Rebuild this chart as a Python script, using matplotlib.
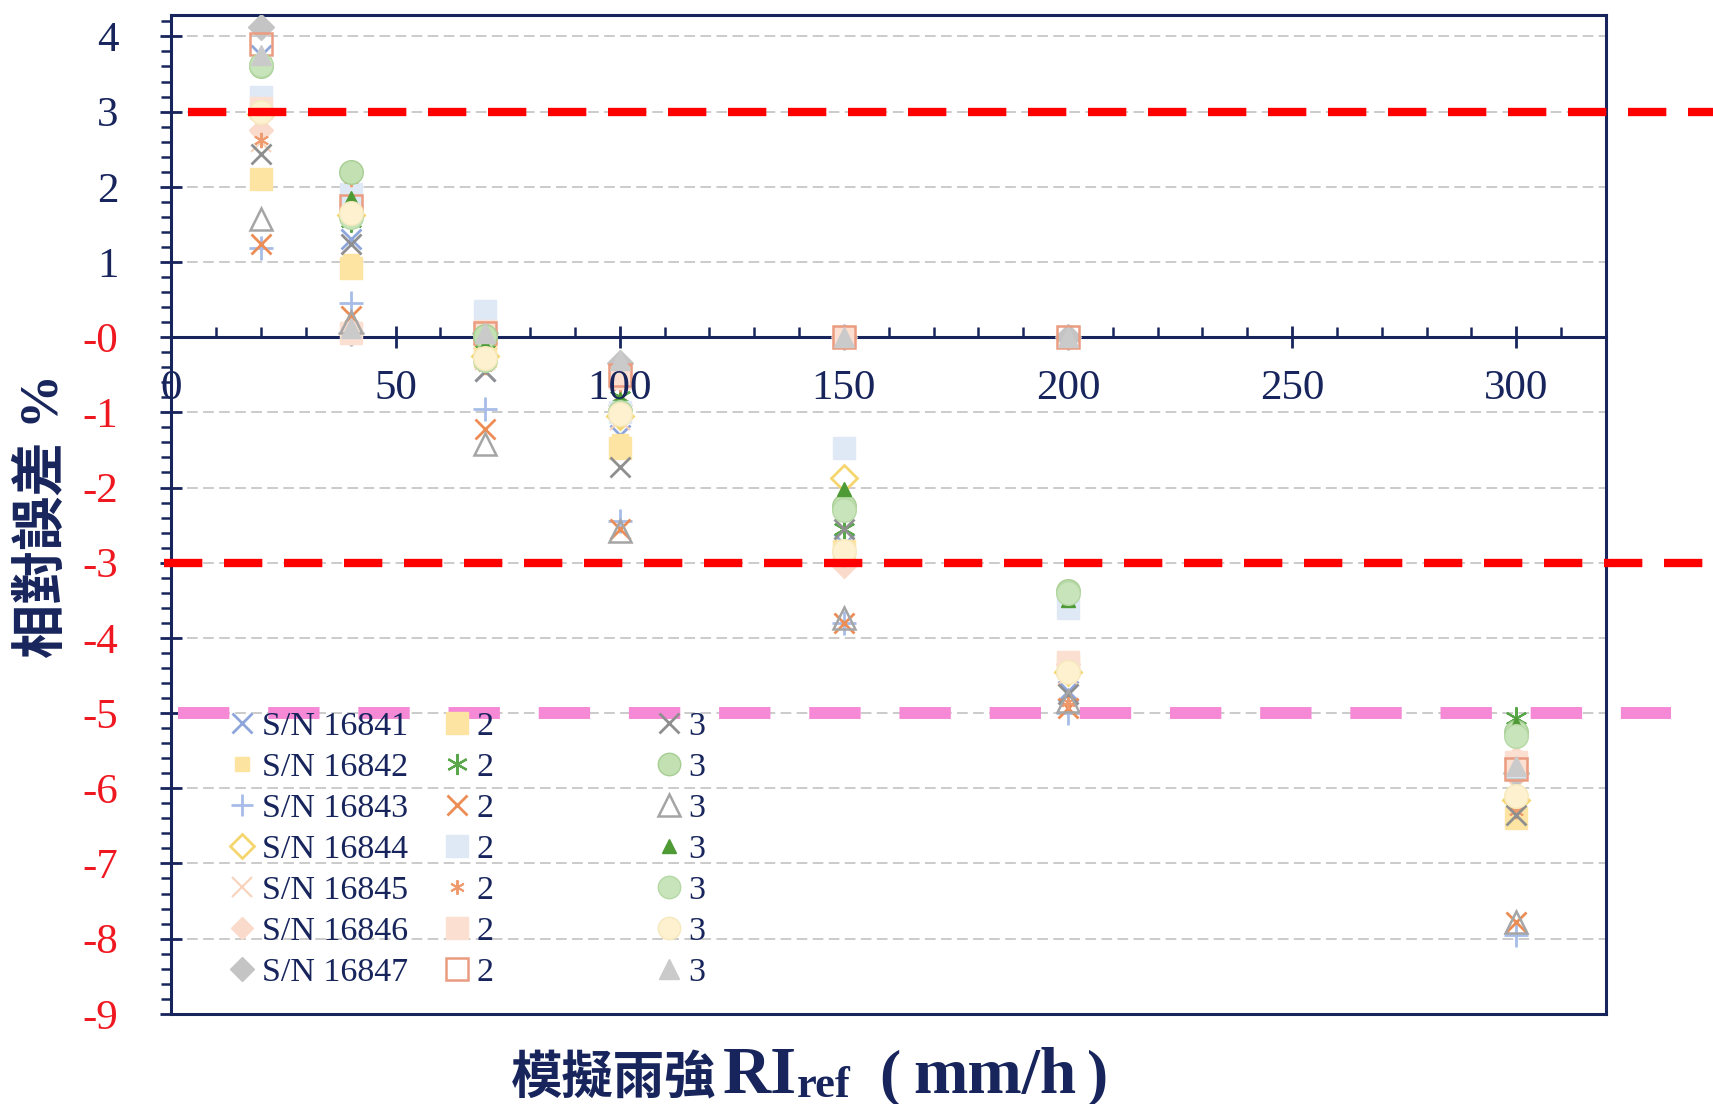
import numpy as np
import matplotlib.pyplot as plt
from matplotlib.ticker import MultipleLocator, NullLocator

plt.rcParams['font.family'] = ['Liberation Serif', 'Noto Sans CJK TC']

# 資料 (模擬雨強, 各雨量計三次測試的相對誤差 %)
rain = [20, 40, 70, 100, 150, 200, 300]
sensors = ['S/N 16841', 'S/N 16842', 'S/N 16843', 'S/N 16844',
           'S/N 16845', 'S/N 16846', 'S/N 16847']

run1 = [
    [3.75, 1.30, -0.45, -1.30, -2.75, -4.70, -5.70],
    [3.10, 1.00, -0.20, -1.40, -2.80, -4.40, -6.30],
    [1.18, 0.46, -0.95, -2.45, -3.80, -5.00, -7.95],
    [2.97, 1.62, -0.25, -1.05, -1.88, -4.45, -6.15],
    [2.60, 1.70, -0.30, -1.10, -2.90, -4.50, -6.00],
    [2.75, 1.60, -0.15, -0.90, -3.05, -4.35, -5.60],
    [4.12, 0.05, 0.05, -0.35, 0.00, 0.00, -5.80],
]
run2 = [
    [2.10, 0.92, -0.25, -1.47, -2.85, -4.38, -6.40],
    [3.65, 1.55, -0.05, -0.80, -2.55, -3.40, -5.06],
    [1.24, 0.28, -1.22, -2.55, -3.80, -4.93, -7.78],
    [3.20, 1.90, 0.35, -1.00, -1.47, -3.60, -5.70],
    [2.62, 2.10, -0.40, -0.65, -2.95, -4.85, -6.30],
    [3.05, 0.05, 0.08, -0.55, 0.00, -4.32, -5.65],
    [3.90, 1.75, 0.05, -0.50, 0.00, 0.00, -5.75],
]
run3 = [
    [2.44, 1.24, -0.45, -1.73, -2.55, -4.75, -6.35],
    [3.60, 2.20, 0.02, -1.00, -2.25, -3.37, -5.25],
    [1.57, 0.20, -1.42, -2.58, -3.73, -4.84, -7.78],
    [3.70, 1.85, -0.10, -0.82, -2.02, -3.50, -5.15],
    [3.62, 1.60, -0.30, -1.00, -2.30, -3.40, -5.30],
    [3.00, 1.65, -0.28, -1.02, -2.85, -4.45, -6.10],
    [3.75, 0.12, 0.05, -0.30, 0.00, 0.00, -5.70],
]
run_labels = [sensors, ['2'] * 7, ['3'] * 7]

limit_red = [3, -3]
limit_pink = -5

yticks = list(range(-9, 5))
ylabels = ['-' + str(abs(v)) if v <= 0 else str(v) for v in yticks]

navy = '#17255c'
red = '#f01820'
ast = (6, 2, 0)

run1_style = [
    dict(marker='x', color='#8ea6dc', ms=15, mew=2),
    dict(marker='s', color='#fde3a0', ms=11),
    dict(marker='+', color='#a7bde8', ms=17, mew=2),
    dict(marker='D', mfc='none', mec='#f5d56e', ms=13, mew=2),
    dict(marker='x', color='#f8d2ba', ms=15, mew=1.5),
    dict(marker='D', color='#fadacb', ms=12),
    dict(marker='D', color='#c4c4c4', ms=13),
]
run2_style = [
    dict(marker='s', color='#fde4a2', ms=16),
    dict(marker=ast, color='#5aa64a', ms=16, mew=1.6),
    dict(marker='x', color='#ec8d55', ms=15, mew=2),
    dict(marker='s', color='#dfe9f6', ms=16),
    dict(marker=ast, color='#ee9a6d', ms=11, mew=1.4),
    dict(marker='s', color='#fbdfd1', ms=16),
    dict(marker='s', mfc='none', mec='#eb9c80', ms=16, mew=1.8),
]
run3_style = [
    dict(marker='x', color='#8f8f8f', ms=15, mew=2),
    dict(marker='o', mfc='#c3e0b3', mec='#a6ce93', ms=17),
    dict(marker='^', mfc='none', mec='#a5a5a5', ms=16, mew=1.8),
    dict(marker='^', color='#4e9a35', ms=10),
    dict(marker='o', mfc='#c8e4ba', mec='#b5d8a5', ms=17),
    dict(marker='o', mfc='#fdf1cf', mec='#f6e9bd', ms=17),
    dict(marker='^', color='#cacaca', ms=15),
]

W, H = 1713, 1104
fig = plt.figure(figsize=(W / 100, H / 100), dpi=100)
ax = fig.add_axes([0.1001, 0.0817, 0.8374, 0.9044])

handles = []
for runs, styles in [(run1, run1_style), (run2, run2_style), (run3, run3_style)]:
    hs = []
    for vals, st in zip(runs, styles):
        h, = ax.plot(rain, vals, ls='none', zorder=3, **st)
        hs.append(h)
    handles.append(hs)

# 誤差界線
ax.plot([3.7, 344], [limit_red[0]] * 2, color='#ff0000', lw=6,
        dashes=(4.6, 2.6), clip_on=False, zorder=8)
ax.plot([-1.7, 344], [limit_red[1]] * 2, color='#ff0000', lw=6,
        dashes=(4.6, 2.6), clip_on=False, zorder=8)
ax.plot([1.5, 334.6], [limit_pink] * 2, color='#f589d6', lw=8.6,
        dashes=(4.3, 3.25), clip_on=False, zorder=8)

xlim = (0, 320)
ylim = (-9.0, 4.28)
ax.set_xlim(xlim)
ax.set_ylim(ylim)

# 軸與刻度
for s in ax.spines.values():
    s.set_color(navy)
    s.set_linewidth(2.2)
    s.set_zorder(2)
ax.spines['bottom'].set_position(('data', 0))
ax.plot([0, 1], [0, 0], transform=ax.transAxes, color=navy, lw=2.2,
        clip_on=False)

ax.xaxis.set_major_locator(MultipleLocator(50))
ax.xaxis.set_minor_locator(MultipleLocator(10))
ax.set_yticks(yticks, ylabels)
ax.yaxis.set_minor_locator(MultipleLocator(0.2))

ax.tick_params(axis='x', which='major', direction='inout', length=16.5,
               width=2, color=navy, labelbottom=False)
ax.tick_params(axis='x', which='minor', direction='in', length=7, width=1.8,
               color=navy)
ax.tick_params(axis='y', which='major', direction='inout', length=16.5,
               width=2, color=navy, labelsize=31, pad=30)
ax.tick_params(axis='y', which='minor', direction='out', length=7, width=1.8,
               color=navy)
for v, lab in zip(yticks, ax.get_yticklabels()):
    lab.set_color(navy if v > 0 else red)

ax.yaxis.grid(True, which='major', color='#bdbdbd', lw=1.1,
              linestyle=(0, (7, 3.5)))
ax.set_axisbelow(True)

# x 刻度文字畫在資料點之上
ax2 = fig.add_axes(ax.get_position(), frameon=False)
ax2.set_xlim(xlim)
ax2.set_ylim(ylim)
ax2.patch.set_visible(False)
ax2.yaxis.set_visible(False)
ax2.spines['bottom'].set_position(('data', 0))
ax2.xaxis.set_major_locator(MultipleLocator(50))
ax2.xaxis.set_minor_locator(NullLocator())
ax2.tick_params(axis='x', which='major', length=0, labelcolor=navy,
                labelsize=31, pad=23)

# 圖例
lefts = [229.7, 444, 656]
for hs, labs, lx in zip(handles, run_labels, lefts):
    fig.legend(hs, labs, loc='upper left',
               bbox_to_anchor=(lx / W, 1 - 711 / H),
               bbox_transform=fig.transFigure, frameon=False, fontsize=24.5,
               handlelength=0.75, handletextpad=0.2, labelspacing=0.3,
               borderpad=0, borderaxespad=0, labelcolor=navy,
               markerscale=0.95)

# 軸標題
fig.text(44 / W, 1 - 516 / H, '相對誤差 %', rotation=90, ha='center',
         va='center', fontsize=39, fontweight='bold', color=navy)
fig.text(511 / W, 1 - 1093 / H, '模擬雨強', ha='left', va='baseline',
         fontsize=37, fontweight='bold', color=navy)
fig.text(723 / W, 1 - 1093 / H, 'RI', ha='left', va='baseline',
         fontsize=48, fontweight='bold', color=navy)
fig.text(797 / W, 1 - 1097 / H, 'ref', ha='left', va='baseline',
         fontsize=32, fontweight='bold', color=navy)
fig.text(890 / W, 1 - 1093 / H, '(', ha='center', va='baseline',
         fontsize=46, fontweight='bold', color=navy)
fig.text(913 / W, 1 - 1093 / H, 'mm/h', ha='left', va='baseline',
         fontsize=47, fontweight='bold', color=navy)
fig.text(1098 / W, 1 - 1093 / H, ')', ha='center', va='baseline',
         fontsize=46, fontweight='bold', color=navy)

plt.savefig('out.png', dpi=100)
